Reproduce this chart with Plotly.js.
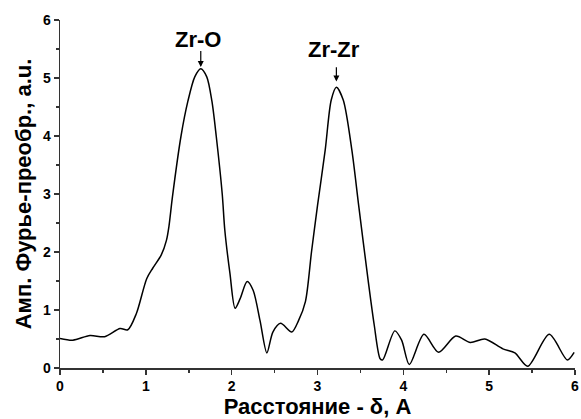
<!DOCTYPE html>
<html>
<head>
<meta charset="utf-8">
<script src="https://cdn.plot.ly/plotly-3.0.1.min.js"></script>
<style>html,body{margin:0;padding:0;background:#fff;}#chart{width:581px;height:419px;}</style>
</head>
<body>
<div id="chart"></div>
<script>
const distance = [0,0.15,0.35,0.52,0.70,0.79,0.89,1.01,1.08,1.18,1.24,1.27,1.31,1.41,1.49,1.57,1.64,1.71,1.77,1.82,1.89,1.92,1.98,2.04,2.10,2.18,2.25,2.33,2.41,2.48,2.57,2.70,2.78,2.86,2.93,3.00,3.09,3.16,3.22,3.30,3.40,3.48,3.59,3.66,3.73,3.76,3.90,3.98,4.07,4.24,4.41,4.61,4.78,4.95,5.16,5.30,5.45,5.70,5.91,5.99];
const amplitude = [0.51,0.48,0.56,0.54,0.68,0.66,0.94,1.54,1.72,1.95,2.2,2.45,2.95,4.0,4.6,5.02,5.16,5.02,4.6,4.0,3.0,2.38,1.63,1.03,1.2,1.49,1.34,0.82,0.26,0.62,0.77,0.62,0.82,1.15,2.0,2.8,3.76,4.62,4.84,4.62,3.76,2.8,1.51,0.75,0.16,0.14,0.64,0.48,0.06,0.58,0.27,0.55,0.44,0.50,0.33,0.26,0.03,0.58,0.14,0.27];
const peakLabels = ["Zr-O", "Zr-Zr"];
const peakX = [1.64, 3.22];
const peakY = [5.16, 4.84];
const xTicks = [0,1,2,3,4,5,6];
const yTicks = [0,1,2,3,4,5,6];

const FONT = "Liberation Sans, Arial, sans-serif";
const trace = {
  x: distance, y: amplitude, type: 'scatter', mode: 'lines',
  line: {color: '#000', width: 1.5, shape: 'spline', smoothing: 0.8},
  hoverinfo: 'skip'
};
const labelOffset = [0.5, 0.65];
const arrowGap = [0.03, 0.1];
const arrowLen = [0.3, 0.27];
const annotations = [];
peakLabels.forEach((lab, i) => {
  const tipY = peakY[i] + arrowGap[i];
  annotations.push({
    x: peakX[i], y: tipY, xref: 'x', yref: 'y',
    ax: peakX[i], ay: tipY + arrowLen[i], axref: 'x', ayref: 'y',
    text: '', showarrow: true, arrowhead: 2, arrowsize: 1, arrowwidth: 1.2, arrowcolor: '#000'
  });
  annotations.push({
    x: peakX[i] - 0.03, y: peakY[i] + labelOffset[i], xref: 'x', yref: 'y',
    text: '<b>' + lab + '</b>', showarrow: false, yanchor: 'middle',
    font: {family: FONT, size: 22, color: '#000'}
  });
});
const axisCommon = {
  showline: true, linecolor: '#333', linewidth: 1.5, mirror: false,
  showgrid: false, zeroline: false,
  ticks: 'outside', ticklen: 5, tickwidth: 1.5, tickcolor: '#333',
  minor: {ticks: 'outside', ticklen: 3, tickwidth: 1.5, tickcolor: '#333', dtick: 0.5, showgrid: false},
  tickfont: {family: FONT, size: 14, color: '#000'}
};
const layout = {
  width: 581, height: 419,
  margin: {l: 60, r: 6, t: 20, b: 51},
  paper_bgcolor: '#fff', plot_bgcolor: '#fff',
  showlegend: false,
  xaxis: Object.assign({}, axisCommon, {
    range: [0, 6], tickvals: xTicks, ticktext: xTicks.map(v => '<b>' + v + '</b>'),
    title: {text: '<b>Расстояние - δ, А</b>', font: {family: FONT, size: 22, color: '#000'}, standoff: 3}
  }),
  yaxis: Object.assign({}, axisCommon, {
    range: [0, 6], tickvals: yTicks, ticktext: yTicks.map(v => '<b>' + v + '</b>'),
    title: {text: '<b>Амп. Фурье-преобр., a.u.</b>', font: {family: FONT, size: 22, color: '#000'}, standoff: 5}
  }),
  annotations: annotations
};
Plotly.newPlot('chart', [trace], layout, {staticPlot: true, displayModeBar: false});
</script>
</body>
</html>
